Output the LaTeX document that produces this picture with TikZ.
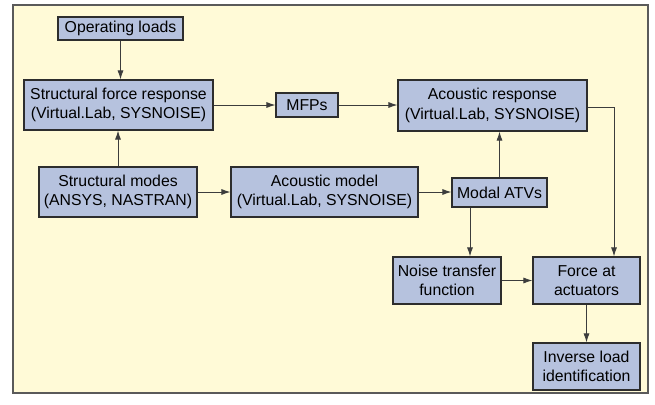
\documentclass[tikz,border=0pt]{standalone}
\usepackage{fontspec}
\setmainfont{Liberation Sans}
\usetikzlibrary{arrows.meta}
\definecolor{bgyellow}{RGB}{255,250,215}
\definecolor{boxblue}{RGB}{182,194,222}
\definecolor{boxline}{RGB}{45,45,45}
\definecolor{arrline}{RGB}{60,60,60}
\definecolor{frameline}{RGB}{90,90,90}
\tikzset{
  blk/.style={draw=boxline, line width=1.1pt, fill=boxblue, inner sep=0pt, align=center,
    font=\fontsize{15.8}{19.5}\selectfont},
  conn/.style={draw=arrline, line width=0.9pt, -{Latex[length=9pt,width=6pt]}}
}
\begin{document}
\begin{tikzpicture}[x=1pt,y=-1pt]
\useasboundingbox (0,0) rectangle (655,404);
\fill[white] (0,0) rectangle (655,404);
\draw[frameline, line width=1.4pt, fill=bgyellow] (13,5) rectangle (648,393);
\node[blk, minimum width=125pt, minimum height=23pt] (ol) at (120.5,28.5) {Operating loads};
\node[blk, minimum width=189pt, minimum height=50pt] (sfr) at (118.5,105) {Structural force response\\(Virtual.Lab, SYSNOISE)};
\node[blk, minimum width=62pt, minimum height=24pt] (mfp) at (307,105) {MFPs};
\node[blk, minimum width=189pt, minimum height=51pt] (ar) at (492.5,105.5) {Acoustic response\\(Virtual.Lab, SYSNOISE)};
\node[blk, minimum width=158pt, minimum height=50pt] (sm) at (118,192) {Structural modes\\(ANSYS, NASTRAN)};
\node[blk, minimum width=187pt, minimum height=50pt] (am) at (324.5,192) {Acoustic model\\(Virtual.Lab, SYSNOISE)};
\node[blk, minimum width=95pt, minimum height=29pt] (atv) at (499.5,192.5) {Modal ATVs};
\node[blk, minimum width=108pt, minimum height=47pt] (ntf) at (447,280.5) {Noise transfer\\function};
\node[blk, minimum width=107pt, minimum height=47pt] (faa) at (586.5,280.5) {Force at\\actuators};
\node[blk, minimum width=107pt, minimum height=47pt] (ili) at (586.5,366.5) {Inverse load\\identification};
\draw[conn] (ol.south) -- (ol.south |- sfr.north);
\draw[conn] (sm.north) -- (sm.north |- sfr.south);
\draw[conn] (sfr.east) -- (mfp.west);
\draw[conn] (mfp.east) -- (mfp.east -| ar.west);
\draw[conn] (sm.east) -- (am.west);
\draw[conn] (am.east) -- (am.east -| atv.west);
\draw[conn] (atv.north) -- (atv.north |- ar.south);
\coordinate (atvout) at ([xshift=-29.5pt]atv.south);
\draw[conn] (atvout) -- (atvout |- ntf.north);
\coordinate (arout) at ([yshift=-2pt]ar.east);
\coordinate (faain) at ([xshift=27.5pt]faa.north);
\draw[conn] (arout) -| (faain);
\draw[conn] (ntf.east) -- (faa.west);
\draw[conn] (faa.south) -- (ili.north);
\end{tikzpicture}
\end{document}
